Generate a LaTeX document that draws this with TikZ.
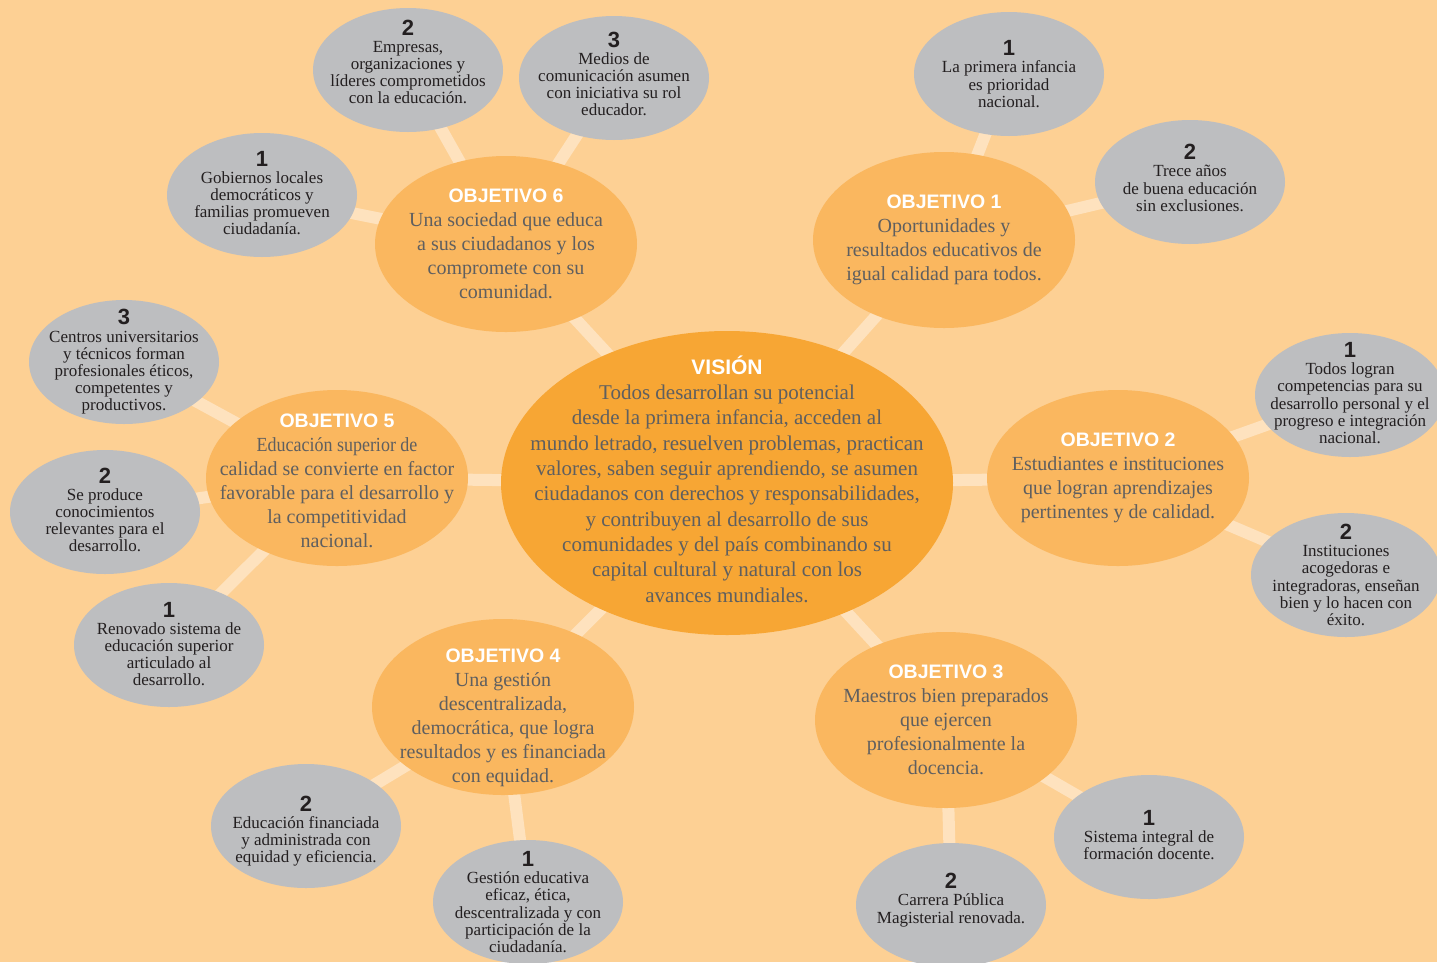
\documentclass[tikz,border=0pt]{standalone}
\usepackage{fontspec}
\setmainfont{Liberation Serif}
\newfontfamily\headfont{Liberation Sans}
\newfontfamily\narrowfont{Liberation Serif}[FakeStretch=0.9]
\usetikzlibrary{shapes.geometric}
\pgfdeclarelayer{back}
\pgfdeclarelayer{lines}
\pgfsetlayers{back,lines,main}

\definecolor{bgcol}{RGB}{253,208,148}
\definecolor{viscol}{RGB}{247,166,52}
\definecolor{goalcol}{RGB}{250,183,95}
\definecolor{leafcol}{RGB}{189,190,192}
\definecolor{linkcol}{RGB}{254,226,190}
\definecolor{goaltxt}{RGB}{95,95,95}
\definecolor{leaftxt}{RGB}{35,31,32}

\newcommand{\headline}[2][19.5]{{\headfont\bfseries\color{white}\fontsize{#1}{24}\selectfont #2}}
\newcommand{\leafnum}[1]{{\headfont\bfseries\fontsize{22}{17}\selectfont #1}}

\tikzset{
  vis/.style={ellipse, fill=viscol, minimum width=452pt, minimum height=304pt, inner sep=0pt},
  goal/.style={ellipse, fill=goalcol, minimum width=262pt, minimum height=176pt, inner sep=0pt},
  leaf/.style={ellipse, fill=leafcol, minimum width=190pt, minimum height=124pt, inner sep=0pt},
  vistext/.style={align=center, text=goaltxt, font=\fontsize{21}{25.3}\selectfont, inner sep=0pt},
  goaltext/.style={align=center, text=goaltxt, font=\fontsize{20}{24}\selectfont, inner sep=0pt},
  leaftext/.style={align=center, text=leaftxt, font=\fontsize{17}{17.2}\selectfont, inner sep=0pt},
  link/.style={draw=linkcol, line width=12pt},
}

\begin{document}
\begin{tikzpicture}[x=1pt, y=-1pt]
    \useasboundingbox (0,0) rectangle (1437,962);
    \begin{pgfonlayer}{back}
        \fill[bgcol] (0,0) rectangle (1437,962);
    \end{pgfonlayer}
    \clip (0,0) rectangle (1437,962);

    % vision
    \node[vis] (vision) at (727,483) {};
    \node[vistext] (vision-t) at ([yshift=4]vision) {\headline[21]{VISIÓN}\\
        Todos desarrollan su potencial\\
        desde la primera infancia, acceden al\\
        mundo letrado, resuelven problemas, practican\\
        valores, saben seguir aprendiendo, se asumen\\
        ciudadanos con derechos y responsabilidades,\\
        y contribuyen al desarrollo de sus\\
        comunidades y del país combinando su\\
        capital cultural y natural con los\\
        avances mundiales.};

    % objetivos
    \node[goal] (obj6) at (506,244) {};
    \node[goaltext] (obj6-t) at (obj6) {\headline{OBJETIVO 6}\\
        Una sociedad que educa\\ a sus ciudadanos y los\\ compromete con su\\ comunidad.};
    \node[goal] (obj1) at (944,240) {};
    \node[goaltext] (obj1-t) at (obj1) {\headline{OBJETIVO 1}\\
        Oportunidades y\\ resultados educativos de\\ igual calidad para todos.};
    \node[goal] (obj5) at (337,478) {};
    \node[goaltext] (obj5-t) at ([yshift=-3]obj5) {\headline{OBJETIVO 5}\\ \narrowfont
        Educación superior de\\ calidad se convierte en factor\\ favorable para el desarrollo y\\ la competitividad\\ nacional.};
    \node[goal] (obj2) at (1118,478) {};
    \node[goaltext] (obj2-t) at (obj2) {\headline{OBJETIVO 2}\\
        Estudiantes e instituciones\\ que logran aprendizajes\\ pertinentes y de calidad.};
    \node[goal] (obj4) at (503,707) {};
    \node[goaltext] (obj4-t) at ([yshift=-11]obj4) {\headline{OBJETIVO 4}\\
        Una gestión\\ descentralizada,\\ democrática, que logra\\ resultados y es financiada\\ con equidad.};
    \node[goal] (obj3) at (946,720) {};
    \node[goaltext] (obj3-t) at (obj3) {\headline{OBJETIVO 3}\\
        Maestros bien preparados\\ que ejercen\\ profesionalmente la\\ docencia.};

    % metas objetivo 6
    \node[leaf] (m6a) at (262,195) {};
    \node[leaftext] (m6a-t) at ([yshift=2]m6a) {\leafnum{1}\\ Gobiernos locales\\ democráticos y\\ familias promueven\\ ciudadanía.};
    \node[leaf] (m6b) at (408,70) {};
    \node[leaftext] (m6b-t) at ([yshift=8]m6b) {\leafnum{2}\\ Empresas,\\ organizaciones y\\ líderes comprometidos\\ con la educación.};
    \node[leaf] (m6c) at (614,78) {};
    \node[leaftext] (m6c-t) at ([yshift=4]m6c) {\leafnum{3}\\ Medios de\\ comunicación asumen\\ con iniciativa su rol\\ educador.};

    % metas objetivo 1
    \node[leaf] (m1a) at (1009,74) {};
    \node[leaftext] (m1a-t) at (m1a) {\leafnum{1}\\ La primera infancia\\ es prioridad\\ nacional.};
    \node[leaf] (m1b) at (1190,182) {};
    \node[leaftext] (m1b-t) at ([yshift=4]m1b) {\leafnum{2}\\ Trece años\\ de buena educación\\ sin exclusiones.};

    % metas objetivo 5
    \node[leaf] (m5a) at (169,645) {};
    \node[leaftext] (m5a-t) at ([yshift=1]m5a) {\leafnum{1}\\ Renovado sistema de\\ educación superior\\ articulado al\\ desarrollo.};
    \node[leaf] (m5b) at (105,512) {};
    \node[leaftext] (m5b-t) at ([yshift=2]m5b) {\leafnum{2}\\ Se produce\\ conocimientos\\ relevantes para el\\ desarrollo.};
    \node[leaf] (m5c) at (124,362) {};
    \node[leaftext] (m5c-t) at (m5c) {\leafnum{3}\\ Centros universitarios\\ y técnicos forman\\ profesionales éticos,\\ competentes y\\ productivos.};

    % metas objetivo 2
    \node[leaf] (m2a) at (1350,395) {};
    \node[leaftext] (m2a-t) at ([yshift=2]m2a) {\leafnum{1}\\ Todos logran\\ competencias para su\\ desarrollo personal y el\\ progreso e integración\\ nacional.};
    \node[leaf] (m2b) at (1346,575) {};
    \node[leaftext] (m2b-t) at (m2b) {\leafnum{2}\\ Instituciones\\ acogedoras e\\ integradoras, enseñan\\ bien y lo hacen con\\ éxito.};

    % metas objetivo 4
    \node[leaf] (m4a) at (528,902) {};
    \node[leaftext] (m4a-t) at (m4a) {\leafnum{1}\\ Gestión educativa\\ eficaz, ética,\\ descentralizada y con\\ participación de la\\ ciudadanía.};
    \node[leaf] (m4b) at (306,826) {};
    \node[leaftext] (m4b-t) at ([yshift=-5]m4b) {\leafnum{2}\\ Educación financiada\\ y administrada con\\ equidad y eficiencia.};

    % metas objetivo 3
    \node[leaf] (m3a) at (1149,837) {};
    \node[leaftext] (m3a-t) at ([yshift=2]m3a) {\leafnum{1}\\ Sistema integral de\\ formación docente.};
    \node[leaf] (m3b) at (951,905) {};
    \node[leaftext] (m3b-t) at ([yshift=5]m3b) {\leafnum{2}\\ Carrera Pública\\ Magisterial renovada.};

    % enlaces
    \begin{pgfonlayer}{lines}
        \foreach \g in {obj1,obj2,obj3,obj4,obj5,obj6}
            \draw[link] (vision.center) -- (\g.center);
        \draw[link] (obj6.center) -- (m6a.center);
        \draw[link] (obj6.center) -- (m6b.center);
        \draw[link] (obj6.center) -- (m6c.center);
        \draw[link] (obj1.center) -- (m1a.center);
        \draw[link] (obj1.center) -- (m1b.center);
        \draw[link] (obj5.center) -- (m5a.center);
        \draw[link] (obj5.center) -- (m5b.center);
        \draw[link] (obj5.center) -- (m5c.center);
        \draw[link] (obj2.center) -- (m2a.center);
        \draw[link] (obj2.center) -- (m2b.center);
        \draw[link] (obj4.center) -- (m4a.center);
        \draw[link] (obj4.center) -- (m4b.center);
        \draw[link] (obj3.center) -- (m3a.center);
        \draw[link] (obj3.center) -- (m3b.center);
    \end{pgfonlayer}
\end{tikzpicture}
\end{document}
